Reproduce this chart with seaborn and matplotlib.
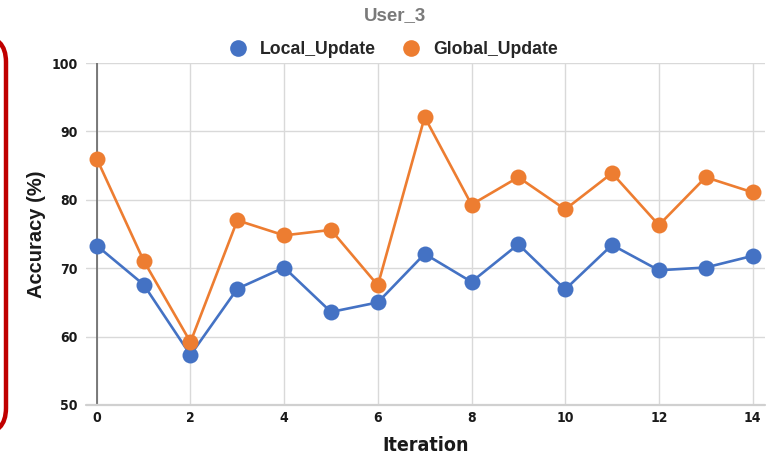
import matplotlib
matplotlib.use("Agg")
import matplotlib.pyplot as plt
from matplotlib.lines import Line2D
from matplotlib.patches import FancyBboxPatch
from matplotlib import font_manager
import seaborn as sns
import pandas as pd

iterations = list(range(15))
local_update = [73.3, 67.6, 57.3, 67.0, 70.1, 63.6, 65.0, 72.1, 68.0, 73.5, 66.9, 73.4, 69.7, 70.1, 71.8]
global_update = [86.0, 71.1, 59.2, 77.0, 74.8, 75.6, 67.5, 92.1, 79.3, 83.3, 78.6, 83.9, 76.3, 83.3, 81.1]
series_names = ["Local_Update", "Global_Update"]
colors = ["#4472C4", "#ED7D31"]
y_ticks = [50, 60, 70, 80, 90, 100]
x_ticks = [0, 2, 4, 6, 8, 10, 12, 14]

df = pd.DataFrame({
    "Iteration": iterations * 2,
    "Accuracy": local_update + global_update,
    "Series": [series_names[0]] * 15 + [series_names[1]] * 15,
})

sns.set_theme(style="white")
plt.rcParams["font.family"] = ["Liberation Sans", "DejaVu Sans"]

# condensed bold face for the numeric ticks and the x label
cond = font_manager.FontProperties(family="DejaVu Sans", stretch="condensed",
                                   weight="bold")

fig = plt.figure(figsize=(7.8, 4.61), dpi=100)
ax = fig.add_axes([0.110, 0.1215, 0.871, 0.7418])

sns.lineplot(data=df, x="Iteration", y="Accuracy", hue="Series",
             palette=dict(zip(series_names, colors)), marker="o",
             markersize=11.5, markeredgewidth=0, linewidth=1.9,
             legend=False, ax=ax, zorder=3)

ax.set_xlim(-0.235, 14.27)
ax.set_ylim(50, 100)
ax.set_xticks(x_ticks)
ax.set_yticks(y_ticks)
ax.grid(True, color="#d9d9d9", linewidth=1.0)
ax.set_axisbelow(True)
for s in ax.spines.values():
    s.set_visible(False)
ax.axvline(0, color="#666666", linewidth=1.2, zorder=2)
ax.axhline(50, color="#d0d0d0", linewidth=1.6, zorder=2, clip_on=False)

ax.tick_params(axis="both", length=0)
ax.tick_params(axis="y", pad=6)
ax.tick_params(axis="x", pad=4)
for lab in ax.get_xticklabels() + ax.get_yticklabels():
    lab.set_fontproperties(cond)
    lab.set_fontsize(10)
    lab.set_color("#1a1a1a")

ax.set_xlabel("Iteration", fontproperties=cond, fontsize=14,
              color="#1a1a1a", labelpad=8)
ax.set_ylabel("Accuracy (%)", fontweight="bold", fontsize=14.5,
              color="#1a1a1a", labelpad=4)

fig.text(0.507, 0.966, "User_3", ha="center", va="center",
         fontsize=13.5, fontweight="bold", color="#7a7a7a")

handles = [Line2D([], [], linestyle="none", marker="o", markersize=12,
                  markerfacecolor=c, markeredgewidth=0) for c in colors]
leg = fig.legend(handles, series_names, loc="center", ncol=2,
                 bbox_to_anchor=(0.499, 0.892), frameon=False,
                 handletextpad=0.25, columnspacing=1.0,
                 prop={"weight": "bold", "size": 12.7})
for t in leg.get_texts():
    t.set_color("#262626")

# rounded frame on the left edge, in pixel coordinates from the top
frame = FancyBboxPatch((-200, 36), 206, 398,
                       boxstyle="round,pad=0,rounding_size=26",
                       fill=False, edgecolor="#c00000",
                       linewidth=3.2, clip_on=False)
frame.set_transform(matplotlib.transforms.Affine2D().scale(1, -1).translate(0, 461))
fig.patches.append(frame)

fig.savefig("out.png", dpi=100)
